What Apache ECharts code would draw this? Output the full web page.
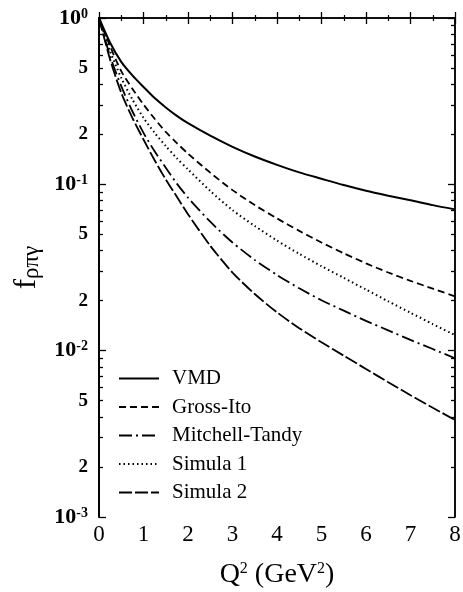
<!DOCTYPE html>
<html><head><meta charset="utf-8">
<script src="https://cdn.jsdelivr.net/npm/echarts@6/dist/echarts.min.js"></script>
<style>html,body{margin:0;padding:0;background:#fff}#c{width:463px;height:592px}</style>
</head><body><div id="c"></div>
<script>
// Q^2 sample positions (GeV^2)
const q2 = [0, 0.25, 0.5, 0.75, 1, 1.25, 1.5, 1.75, 2, 2.5, 3, 3.5, 4, 4.5, 5, 5.5, 6, 6.5, 7, 7.5, 8];
// values
const vmd           = [1, 0.71, 0.545, 0.452, 0.385, 0.33, 0.29, 0.258, 0.233, 0.196, 0.168, 0.147, 0.131, 0.118, 0.108, 0.099, 0.0915, 0.0855, 0.0802, 0.075, 0.0707];
const grossIto      = [1, 0.676, 0.479, 0.376, 0.302, 0.248, 0.2065, 0.177, 0.153, 0.1175, 0.0923, 0.075, 0.0624, 0.0525, 0.0447, 0.0385, 0.0335, 0.0295, 0.0263, 0.0236, 0.0212];
const mitchellTandy = [1, 0.589, 0.389, 0.275, 0.204, 0.158, 0.126, 0.101, 0.0832, 0.0596, 0.0447, 0.0351, 0.0285, 0.0237, 0.0201, 0.0174, 0.0151, 0.01324, 0.0116, 0.01023, 0.0090];
const simula1       = [1, 0.631, 0.437, 0.324, 0.251, 0.204, 0.170, 0.1435, 0.123, 0.0912, 0.070, 0.0562, 0.0459, 0.0382, 0.0322, 0.0274, 0.0233, 0.0198, 0.0169, 0.01445, 0.0124];
const simula2       = [1, 0.562, 0.355, 0.251, 0.186, 0.1396, 0.107, 0.0841, 0.0661, 0.0427, 0.0295, 0.0219, 0.0170, 0.01365, 0.01122, 0.00933, 0.00776, 0.00646, 0.0054, 0.00454, 0.00383];
const seriesNames = ['VMD', 'Gross-Ito', 'Mitchell-Tandy', 'Simula 1', 'Simula 2'];
const yLabelValues = [1, 0.5, 0.2, 0.1, 0.05, 0.02, 0.01, 0.005, 0.002, 0.001];
const yDecades = [1, 0.1, 0.01, 0.001];
const yMinorMantissas = [2, 3, 4, 5, 6, 7, 8, 9];

const FONT = 'Liberation Serif';
const seriesData = [vmd, grossIto, mitchellTandy, simula1, simula2];
const dashes = ['solid', [7, 4], [13, 4, 2, 4], [1.5, 3], [13, 3]];
const widths = [2, 1.8, 1.8, 2, 1.8];

const lg = v => Math.log10(v);
const majorTicks = yDecades.map(lg);
const minorTicks = [];
[0.001, 0.01, 0.1].forEach(d => yMinorMantissas.forEach(m => minorTicks.push(lg(m * d))));

function yFmt(v) {
  const e = Math.floor(v + 1e-9);
  const m = Math.round(Math.pow(10, v - e));
  if (m === 1) return '{b|10}{s|' + e + '}';
  return '{c|' + m + '}';
}
const rich = {
  b: {fontFamily: FONT, fontSize: 22, color: '#000', fontWeight: 'bold'},
  s: {fontFamily: FONT, fontSize: 14, color: '#000', verticalAlign: 'top', fontWeight: 'bold'},
  c: {fontFamily: FONT, fontSize: 19, color: '#000', fontWeight: 'bold'}
};
const axLine = {show: true, lineStyle: {color: '#000', width: 1.5}};

function yTickAxis(pos, values, len, labels) {
  return {
    type: 'value', min: -3, max: 0, position: pos,
    axisLine: axLine,
    axisTick: {show: true, inside: true, length: len, customValues: values, lineStyle: {color: '#000', width: 1.3}},
    axisLabel: labels ? {show: true, customValues: yLabelValues.map(lg), formatter: yFmt, rich: rich, margin: 11} : {show: false},
    splitLine: {show: false}
  };
}

const yAxes = [
  {type: 'log', logBase: 10, min: 0.001, max: 1, position: 'left',
   axisLine: axLine, axisTick: {show: false}, axisLabel: {show: false}, splitLine: {show: false},
   name: '{f|f}{sub|ρπγ}', nameLocation: 'middle', nameRotate: 90, nameGap: 56,
   nameTextStyle: {rich: {
     f: {fontFamily: FONT, fontSize: 31, color: '#000'},
     sub: {fontFamily: FONT, fontSize: 23, color: '#000', verticalAlign: 'bottom', padding: [10, 0, 0, 0]}
   }}},
  yTickAxis('left', majorTicks, 7, true),
  yTickAxis('left', minorTicks, 4, false),
  yTickAxis('right', majorTicks, 7, false),
  yTickAxis('right', minorTicks, 4, false)
];

const xBase = (pos, labels) => ({
  type: 'value', min: 0, max: 8, interval: 1, position: pos,
  axisLine: axLine,
  axisTick: {show: true, inside: true, length: 6, lineStyle: {color: '#000', width: 1.3}},
  minorTick: {show: true, splitNumber: 2, length: 3, lineStyle: {color: '#000', width: 1.2}},
  axisLabel: labels ? {show: true, fontFamily: FONT, fontSize: 23, color: '#000', margin: 6} : {show: false},
  splitLine: {show: false}, minorSplitLine: {show: false}
});
const xMain = xBase('bottom', true);
xMain.name = '{a|Q}{s|2}{a| (GeV}{s|2}{a|)}';
xMain.nameLocation = 'middle';
xMain.nameGap = 44;
xMain.nameTextStyle = {rich: {
  a: {fontFamily: FONT, fontSize: 28, color: '#000'},
  s: {fontFamily: FONT, fontSize: 16, color: '#000', verticalAlign: 'top'}
}};

const option = {
  backgroundColor: '#fff',
  animation: false,
  grid: {left: 99, right: 8, top: 18, bottom: 75, containLabel: false, outerBoundsMode: 'none'},
  xAxis: [xMain, xBase('top', false)],
  yAxis: yAxes,
  legend: {
    data: seriesNames, orient: 'vertical', left: 113, top: 363,
    itemWidth: 40, itemHeight: 14, itemGap: 7.5,
    itemStyle: {opacity: 0},
    textStyle: {fontFamily: FONT, fontSize: 21, color: '#000', padding: [0, 0, 0, 8]}
  },
  series: seriesNames.map((n, i) => ({
    name: n, type: 'line', xAxisIndex: 0, yAxisIndex: 0,
    data: q2.map((x, k) => [x, seriesData[i][k]]),
    symbol: 'none', smooth: 0.25, color: '#000',
    lineStyle: {color: '#000', width: widths[i], type: dashes[i]}
  }))
};
const chart = echarts.init(document.getElementById('c'), null, {renderer: 'canvas'});
chart.setOption(option);
</script></body></html>
